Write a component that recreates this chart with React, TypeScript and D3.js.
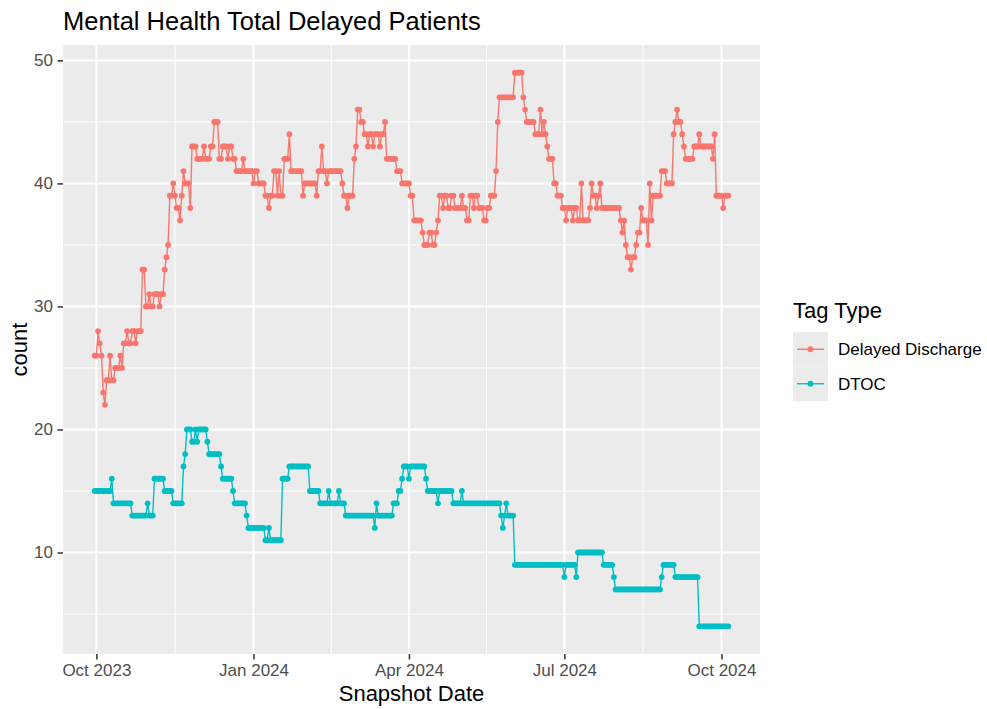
import React, { useEffect, useRef } from "react";
import * as d3 from "d3";

// first snapshot; every run below is [count, number of consecutive daily snapshots]
const startDate = new Date(2023, 8, 30);

const delayedDischargeRuns: [number, number][] = [
  [26, 2], [28, 1], [27, 1], [26, 1], [23, 1], [22, 1], [24, 2], [26, 1], [24, 2], [25, 3],
  [26, 1], [25, 1], [27, 2], [28, 1], [27, 2], [28, 2], [27, 1], [28, 3],
  [33, 2], [30, 2], [31, 1], [30, 2], [31, 3], [30, 1], [31, 2],
  [33, 1], [34, 1], [35, 1], [39, 2], [40, 1], [39, 1], [38, 2], [37, 1], [39, 1], [41, 1], [40, 3], [38, 1],
  [43, 3], [42, 4], [43, 1], [42, 3], [43, 2], [45, 3], [42, 2], [43, 3], [42, 1], [43, 2], [42, 2], [41, 4], [42, 1], [41, 5],
  [40, 1], [41, 2], [40, 4], [39, 2], [38, 1], [39, 2], [41, 2], [39, 1], [41, 1], [39, 2],
  [42, 3], [44, 1], [41, 7], [39, 1], [40, 7], [39, 1], [41, 2], [43, 1], [41, 2], [40, 1],
  [41, 8], [40, 1], [39, 2], [38, 1], [39, 3], [42, 1], [43, 1], [46, 2], [45, 2], [44, 2],
  [43, 1], [44, 2], [43, 1], [44, 3], [43, 1], [44, 2], [45, 1], [42, 6], [41, 3], [40, 5], [39, 2],
  [37, 5], [36, 1], [35, 3], [36, 2], [35, 2], [36, 1], [37, 1],
  [39, 2], [38, 1], [39, 2], [38, 2], [39, 2], [38, 4], [39, 1], [38, 2], [37, 2], [39, 2],
  [38, 1], [39, 2], [38, 3], [37, 2], [38, 2], [39, 3], [41, 1], [45, 1], [47, 9], [49, 5],
  [47, 1], [46, 1], [45, 5], [44, 3], [46, 1], [44, 1], [45, 1], [44, 1], [43, 1], [42, 3],
  [40, 2], [39, 3], [38, 2], [37, 1], [38, 3], [37, 1],
  [38, 2], [37, 2], [40, 1], [37, 4], [38, 1], [40, 1], [39, 2], [38, 1], [39, 1], [40, 1],
  [38, 11], [37, 1], [36, 1], [37, 1], [35, 1], [34, 2], [33, 1], [34, 2], [35, 1], [36, 2],
  [38, 1], [37, 3], [35, 1], [40, 1], [37, 1], [39, 5], [41, 3], [40, 4], [44, 1], [45, 1],
  [46, 1], [45, 2], [44, 1], [43, 1], [42, 5], [43, 3], [44, 1], [43, 7], [42, 1], [44, 1],
  [39, 4], [38, 1], [39, 3],
];

const dtocRuns: [number, number][] = [
  [15, 10], [16, 1], [14, 11], [13, 9], [14, 1], [13, 3], [16, 6], [15, 5], [14, 6], [17, 1],
  [18, 1], [20, 3], [19, 2], [20, 1], [19, 1], [20, 5], [19, 1], [18, 7], [17, 1], [16, 6],
  [15, 1], [14, 7], [13, 1],
  [12, 10], [11, 2], [12, 1], [11, 7], [16, 4], [17, 12], [15, 6], [14, 5], [15, 1], [14, 5],
  [15, 1], [14, 3], [13, 17], [12, 1], [14, 1], [13, 9], [14, 3], [15, 2], [16, 1],
  [17, 3], [16, 1], [17, 9], [16, 1], [15, 6], [14, 1], [15, 8], [14, 5], [15, 1], [14, 22],
  [13, 1], [12, 1], [13, 1], [14, 1], [13, 4],
  [9, 29], [8, 1], [9, 6], [8, 1], [10, 15], [9, 6], [8, 1], [7, 27], [8, 1], [9, 7], [8, 14], [4, 18],
];

const seriesNames = ["Delayed Discharge", "DTOC"];
const seriesColors = ["#F8766D", "#00BFC4"];

const xTickDates = [
  new Date(2023, 9, 1),
  new Date(2024, 0, 1),
  new Date(2024, 3, 1),
  new Date(2024, 6, 1),
  new Date(2024, 9, 1),
];
const xTickLabels = ["Oct 2023", "Jan 2024", "Apr 2024", "Jul 2024", "Oct 2024"];
const yTicks = [10, 20, 30, 40, 50];
const yMinorTicks = [5, 15, 25, 35, 45];

const FONT = "'Liberation Sans', Arial, sans-serif";

type Point = { date: Date; value: number };

const expandRuns = (runs: [number, number][]): Point[] => {
  const out: Point[] = [];
  let day = 0;
  runs.forEach(([value, n]) => {
    for (let k = 0; k < n; k++) {
      out.push({ date: d3.timeDay.offset(startDate, day), value });
      day++;
    }
  });
  return out;
};

const App = () => {
  const chartRef = useRef<SVGSVGElement | null>(null);

  useEffect(() => {
    const width = 987;
    const height = 709;
    const panel = { left: 63, right: 760, top: 45, bottom: 654 };

    const series = [expandRuns(delayedDischargeRuns), expandRuns(dtocRuns)];
    const all = series.flat();

    const svg = d3.select(chartRef.current);
    svg.selectAll("*").remove();
    svg.attr("width", width).attr("height", height);

    svg.append("rect").attr("width", width).attr("height", height).attr("fill", "white");

    // ggplot style 5% expansion on both axes
    const [d0, d1] = d3.extent(all, (d) => d.date) as [Date, Date];
    const xPad = (+d1 - +d0) * 0.05;
    const xScale = d3
      .scaleTime()
      .domain([new Date(+d0 - xPad), new Date(+d1 + xPad)])
      .range([panel.left, panel.right]);

    const [v0, v1] = d3.extent(all, (d) => d.value) as [number, number];
    const yPad = (v1 - v0) * 0.05;
    const yScale = d3
      .scaleLinear()
      .domain([v0 - yPad, v1 + yPad])
      .range([panel.bottom, panel.top]);

    // panel background
    svg
      .append("rect")
      .attr("x", panel.left)
      .attr("y", panel.top)
      .attr("width", panel.right - panel.left)
      .attr("height", panel.bottom - panel.top)
      .attr("fill", "#EBEBEB");

    const grid = svg.append("g");

    // minor grid: midpoints between the date breaks
    const xMinor = d3
      .pairs(xTickDates)
      .map(([a, b]) => new Date((+a + +b) / 2));

    grid
      .selectAll(".xminor")
      .data(xMinor)
      .enter()
      .append("line")
      .attr("x1", (d) => xScale(d))
      .attr("x2", (d) => xScale(d))
      .attr("y1", panel.top)
      .attr("y2", panel.bottom)
      .attr("stroke", "white")
      .attr("stroke-width", 1);

    grid
      .selectAll(".yminor")
      .data(yMinorTicks)
      .enter()
      .append("line")
      .attr("x1", panel.left)
      .attr("x2", panel.right)
      .attr("y1", (d) => yScale(d))
      .attr("y2", (d) => yScale(d))
      .attr("stroke", "white")
      .attr("stroke-width", 1);

    grid
      .selectAll(".xmajor")
      .data(xTickDates)
      .enter()
      .append("line")
      .attr("x1", (d) => xScale(d))
      .attr("x2", (d) => xScale(d))
      .attr("y1", panel.top)
      .attr("y2", panel.bottom)
      .attr("stroke", "white")
      .attr("stroke-width", 2);

    grid
      .selectAll(".ymajor")
      .data(yTicks)
      .enter()
      .append("line")
      .attr("x1", panel.left)
      .attr("x2", panel.right)
      .attr("y1", (d) => yScale(d))
      .attr("y2", (d) => yScale(d))
      .attr("stroke", "white")
      .attr("stroke-width", 2);

    // lines first, then points (geom_line + geom_point)
    const line = d3
      .line<Point>()
      .x((d) => xScale(d.date))
      .y((d) => yScale(d.value));

    series.forEach((s, i) => {
      svg
        .append("path")
        .datum(s)
        .attr("d", line)
        .attr("fill", "none")
        .attr("stroke", seriesColors[i])
        .attr("stroke-width", 1.4);
    });

    series.forEach((s, i) => {
      svg
        .append("g")
        .selectAll("circle")
        .data(s)
        .enter()
        .append("circle")
        .attr("cx", (d) => xScale(d.date))
        .attr("cy", (d) => yScale(d.value))
        .attr("r", 2.9)
        .attr("fill", seriesColors[i]);
    });

    // axes
    const xAxis = svg
      .append("g")
      .attr("transform", `translate(0, ${panel.bottom})`)
      .call(
        d3
          .axisBottom(xScale)
          .tickValues(xTickDates)
          .tickFormat((_, i) => xTickLabels[i])
          .tickSize(5.5)
          .tickPadding(4)
      );
    xAxis.select(".domain").remove();
    xAxis.selectAll(".tick line").attr("stroke", "#333333").attr("stroke-width", 1.5);
    xAxis
      .selectAll(".tick text")
      .attr("fill", "#4D4D4D")
      .attr("font-family", FONT)
      .attr("font-size", 17);

    const yAxis = svg
      .append("g")
      .attr("transform", `translate(${panel.left}, 0)`)
      .call(d3.axisLeft(yScale).tickValues(yTicks).tickSize(5.5).tickPadding(4.5));
    yAxis.select(".domain").remove();
    yAxis.selectAll(".tick line").attr("stroke", "#333333").attr("stroke-width", 1.5);
    yAxis
      .selectAll(".tick text")
      .attr("fill", "#4D4D4D")
      .attr("font-family", FONT)
      .attr("font-size", 17);

    // titles
    svg
      .append("text")
      .attr("x", panel.left)
      .attr("y", 30)
      .attr("font-family", FONT)
      .attr("font-size", 25.5)
      .attr("fill", "black")
      .text("Mental Health Total Delayed Patients");

    svg
      .append("text")
      .attr("x", (panel.left + panel.right) / 2)
      .attr("y", 701)
      .attr("text-anchor", "middle")
      .attr("font-family", FONT)
      .attr("font-size", 22)
      .attr("fill", "black")
      .text("Snapshot Date");

    svg
      .append("text")
      .attr("transform", `translate(27, ${(panel.top + panel.bottom) / 2}) rotate(-90)`)
      .attr("text-anchor", "middle")
      .attr("font-family", FONT)
      .attr("font-size", 22)
      .attr("fill", "black")
      .text("count");

    // legend
    const legend = svg.append("g").attr("transform", "translate(793, 318)");
    legend
      .append("text")
      .attr("font-family", FONT)
      .attr("font-size", 22)
      .attr("fill", "black")
      .text("Tag Type");

    const keySize = 34.5;
    seriesNames.forEach((name, i) => {
      const key = legend.append("g").attr("transform", `translate(0, ${14 + i * keySize})`);
      key
        .append("rect")
        .attr("width", 35)
        .attr("height", keySize)
        .attr("fill", "#EBEBEB");
      key
        .append("line")
        .attr("x1", 4)
        .attr("x2", 31)
        .attr("y1", keySize / 2)
        .attr("y2", keySize / 2)
        .attr("stroke", seriesColors[i])
        .attr("stroke-width", 1.4);
      key
        .append("circle")
        .attr("cx", 17.5)
        .attr("cy", keySize / 2)
        .attr("r", 2.9)
        .attr("fill", seriesColors[i]);
      key
        .append("text")
        .attr("x", 45)
        .attr("y", keySize / 2 + 6)
        .attr("font-family", FONT)
        .attr("font-size", 17)
        .attr("fill", "black")
        .text(name);
    });
  }, []);

  return (
    <svg
      ref={chartRef}
      style={{ position: "absolute", left: 0, top: 0, display: "block" }}
    ></svg>
  );
};

export default App;
